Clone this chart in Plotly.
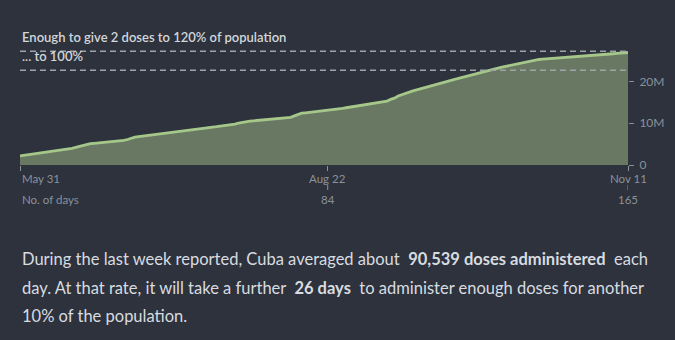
import pandas as pd
import plotly.graph_objects as go

start_date = "2021-05-31"
doses_millions = [
    2.20, 2.32, 2.45, 2.55, 2.68, 2.80, 2.93, 3.05, 3.18, 3.30,
    3.45, 3.58, 3.72, 3.85, 4.00, 4.20, 4.45, 4.75, 5.00, 5.10,
    5.20, 5.28, 5.37, 5.45, 5.55, 5.63, 5.72, 5.80, 5.90, 6.10,
    6.40, 6.65, 6.80, 6.92, 7.05, 7.15, 7.28, 7.40, 7.52, 7.65,
    7.78, 7.90, 8.00, 8.12, 8.22, 8.33, 8.45, 8.55, 8.66, 8.77,
    8.88, 8.98, 9.08, 9.18, 9.28, 9.38, 9.48, 9.60, 9.80, 10.05,
    10.25, 10.40, 10.50, 10.58, 10.65, 10.72, 10.80, 10.87, 10.95, 11.02,
    11.08, 11.14, 11.20, 11.40, 11.75, 12.10, 12.40, 12.50, 12.60, 12.70,
    12.78, 12.86, 12.94, 13.00, 13.10, 13.25, 13.40, 13.55, 13.70, 13.85,
    14.00, 14.15, 14.28, 14.42, 14.55, 14.68, 14.80, 14.92, 15.05, 15.30,
    15.70, 16.00, 16.50, 16.85, 17.15, 17.45, 17.75, 18.00, 18.25, 18.55,
    18.80, 19.05, 19.30, 19.60, 19.85, 20.05, 20.25, 20.45, 20.65, 20.85,
    21.10, 21.35, 21.55, 21.80, 22.05, 22.30, 22.55, 22.80, 23.00, 23.20,
    23.40, 23.60, 23.80, 24.00, 24.15, 24.30, 24.50, 24.75, 25.00, 25.15,
    25.25, 25.32, 25.38, 25.44, 25.50, 25.56, 25.62, 25.68, 25.76, 25.82,
    25.88, 25.95, 26.02, 26.10, 26.18, 26.25, 26.32, 26.40, 26.48, 26.55,
    26.62, 26.70, 26.78, 26.85, 26.92,
]
population_millions = 11.33
target_labels = ["Enough to give 2 doses to 120% of population", "... to 100%"]
target_shares = [1.2, 1.0]
tick_dates = ["2021-05-31", "2021-08-22", "2021-11-11"]
tick_labels = ["May 31", "Aug 22", "Nov 11"]
y_tickvals = [0, 10, 20]
y_ticktext = ["0", "10M", "20M"]
days_label = "No. of days"
paragraph_lines = [
    "During the last week reported, Cuba averaged about &nbsp;<b>90,539 doses administered</b>&nbsp; each",
    "day. At that rate, it will take a further &nbsp;<b>26 days</b>&nbsp; to administer enough doses for another",
    "10% of the population.",
]

dates = pd.date_range(start_date, periods=len(doses_millions), freq="D")

BG = "#2d323c"
FILL = "#687862"
LINE = "#a6c78a"
GRID = "#9ea3aa"
TICK = "#8b919b"
TEXT = "#d8dce0"
FONT = "Lato, sans-serif"

W, H = 675, 340
ml, mr, mt, mb = 20, 47, 20, 175
ph = H - mt - mb


def py(pixel):
    return (H - mb - pixel) / ph


fig = go.Figure()
fig.add_trace(go.Scatter(
    x=dates, y=doses_millions, mode="lines",
    line=dict(color=LINE, width=2.8), fill="tozeroy", fillcolor=FILL,
    hoverinfo="skip", showlegend=False,
))

shapes = []
annotations = []
for lab, share in zip(target_labels, target_shares):
    yv = 2 * population_millions * share
    shapes.append(dict(type="line", xref="paper", x0=0, x1=1, yref="y", y0=yv, y1=yv,
                       line=dict(color=GRID, width=1.5, dash="6px,4px")))
    annotations.append(dict(text=lab, xref="paper", x=0, xanchor="left", yref="y", y=yv,
                            yanchor="bottom", yshift=4, showarrow=False,
                            font=dict(family=FONT, size=13, color="#d3d6db", weight=600)))

day0 = pd.Timestamp(start_date)
for i, (d, lab) in enumerate(zip(tick_dates, tick_labels)):
    anchor = "left" if i == 0 else "center"
    annotations.append(dict(text=lab, xref="x", x=d, xanchor=anchor, yref="paper", y=py(178),
                            yanchor="middle", showarrow=False,
                            font=dict(family=FONT, size=11.5, color=TICK)))
    if i > 0:
        nday = (pd.Timestamp(d) - day0).days + 1
        shapes.append(dict(type="line", xref="x", x0=d, x1=d, yref="paper", y0=py(185), y1=py(190),
                           line=dict(color=TICK, width=1)))
        annotations.append(dict(text=str(nday), xref="x", x=d, xanchor="center", yref="paper",
                                y=py(199), yanchor="middle", showarrow=False,
                                font=dict(family=FONT, size=11.5, color=TICK)))
annotations.append(dict(text=days_label, xref="x", x=tick_dates[0], xanchor="left", yref="paper",
                        y=py(199), yanchor="middle", showarrow=False,
                        font=dict(family=FONT, size=11.5, color=TICK)))

for k, line in enumerate(paragraph_lines):
    annotations.append(dict(text=line, xref="paper", x=0, xanchor="left", yref="paper",
                            y=py(259 + 28.5 * k), yanchor="middle", showarrow=False,
                            font=dict(family=FONT, size=16.5, color=TEXT)))

fig.update_layout(
    width=W, height=H, margin=dict(l=ml, r=mr, t=mt, b=mb),
    paper_bgcolor=BG, plot_bgcolor=BG,
    xaxis=dict(range=[dates[0], dates[-1]], tickvals=tick_dates, showticklabels=False,
               ticks="outside", ticklen=5, tickcolor=TICK, showgrid=False, zeroline=False,
               showline=False, fixedrange=True),
    yaxis=dict(range=[0, 34.7], side="right", tickvals=y_tickvals, ticktext=y_ticktext,
               ticks="outside", ticklen=5, tickcolor=TICK, showgrid=False, zeroline=False,
               showline=False, ticklabelstandoff=3,
               tickfont=dict(family=FONT, size=12, color=TICK), fixedrange=True),
    shapes=shapes, annotations=annotations,
)

fig.write_html("out.html", config={"displayModeBar": False})
